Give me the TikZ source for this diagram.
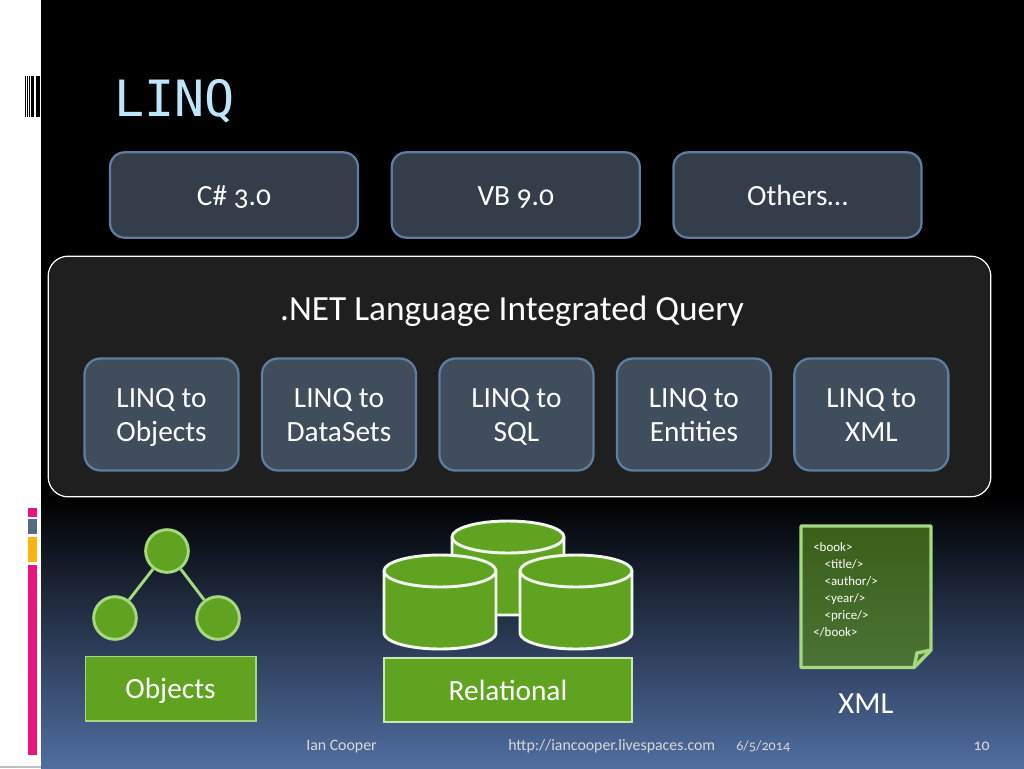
\documentclass[tikz,border=0pt]{standalone}
\usepackage{fontspec}
\setmainfont[Numbers=OldStyle]{Carlito}
\newfontfamily\titlefont{DejaVu Sans Mono}
\usetikzlibrary{positioning}
\definecolor{bluetitle}{HTML}{BDE6FA}
\definecolor{langfill}{HTML}{333E4A}
\definecolor{linqfill}{HTML}{3F4D5C}
\definecolor{slateedge}{HTML}{5F7D9E}
\definecolor{panelfill}{HTML}{1F1F1F}
\definecolor{leaf}{HTML}{5FA321}
\definecolor{leafedge}{HTML}{A5D87F}
\definecolor{sidepink}{HTML}{E8157F}
\definecolor{sideslate}{HTML}{566A82}
\definecolor{sideamber}{HTML}{FFB30F}
\definecolor{skymid}{HTML}{28375A}
\definecolor{skylow}{HTML}{506EA0}
\definecolor{doctop}{HTML}{3A5F18}
\definecolor{doclow}{HTML}{4A7336}
\newcommand{\linqto}[1]{\rule{0pt}{22.4pt}LINQ to\\\strut #1}

\begin{document}
\begin{tikzpicture}[
    x=0.75pt,y=-0.75pt,
    langnode/.style={rectangle, rounded corners=11pt, draw=slateedge, fill=langfill, line width=1.7pt, minimum width=186pt, minimum height=64pt, text=white, text height=18pt, text depth=3pt, font=\fontsize{22}{26}\selectfont},
    linqnode/.style={rectangle, rounded corners=12pt, draw=slateedge, fill=linqfill, line width=1.7pt, minimum width=115.5pt, minimum height=84pt, text=white, align=center, font=\fontsize{22}{25.5}\selectfont},
    treenode/.style={circle, draw=leafedge, fill=leaf, line width=2.2pt, minimum size=32pt, inner sep=0pt},
    labelnode/.style={rectangle, draw=leafedge, fill=leaf, line width=1pt, text=white, text height=18pt, text depth=3pt, font=\fontsize{22}{26}\selectfont},
    footnode/.style={text=white!85!black, inner sep=0pt, font=\fontsize{11.9}{14}\selectfont},
    ]
\useasboundingbox (0,0) rectangle (1024,768);
%Background
\fill[black] (0,0) rectangle (1024,768);
\shade[top color=black, middle color=skymid, bottom color=skylow] (41,497) rectangle (1024,768);
\fill[white] (0,0) rectangle (41,768);
\fill[black!25] (0,766) rectangle (41,768);
%Side marks
\foreach \xa/\xb in {25/26,27/28,29/30,31/34,35.5/36,37/40}
    \fill[black] (\xa,76) rectangle (\xb,117);
\fill[sidepink] (28,508) rectangle (37,517);
\fill[sideslate] (28,519) rectangle (37,534);
\fill[sideamber] (28,537) rectangle (37,562);
\fill[sidepink] (28,565) rectangle (37,755);

%Nodes
\node[text=bluetitle, anchor=west, inner sep=0pt, font=\titlefont\fontsize{37.5}{40}\selectfont] (title) at (114,101) {LINQ};

\node[langnode]     (CS)    at (234,195)        {C\# 3.0};
\node[langnode]     (VB)    [right=23.6pt of CS]  {VB 9.0};
\node[langnode]     (OT)    [right=23.6pt of VB]  {Others…};

\node[rectangle, rounded corners=15pt, draw=white, fill=panelfill, line width=0.9pt, minimum width=707pt, minimum height=180.5pt] (net) at (519.5,376.5) {};
\node[text=white, font=\fontsize{26.5}{30}\selectfont] (query) at (512,311) {.NET Language Integrated Query};

\node[linqnode]     (LO)    at (161.5,414.5)    {\linqto{Objects}};
\node[linqnode]     (LD)    [right=15.9pt of LO]  {\linqto{DataSets}};
\node[linqnode]     (LS)    [right=15.9pt of LD]  {\linqto{SQL}};
\node[linqnode]     (LE)    [right=15.9pt of LS]  {\linqto{Entities}};
\node[linqnode]     (LX)    [right=15.9pt of LE]  {\linqto{XML}};

%Objects
\node[treenode]     (T0)    at (167,551)        {};
\node[treenode]     (T1)    at (115,618)        {};
\node[treenode]     (T2)    at (218,618)        {};
\draw[leafedge, line width=2.2pt] (T0) -- (T1);
\draw[leafedge, line width=2.2pt] (T0) -- (T2);
\node[labelnode, minimum width=128pt, minimum height=48.5pt] (objects) at (170.5,688.5) {Objects};

%Relational
\foreach \cx/\cy/\cb in {508/537/0,440/571/1,576/571/1}{
    \ifnum\cb=1
        \filldraw[fill=leaf, draw=white!92!leaf, line width=2.2pt] (\cx-56,\cy) -- (\cx-56,\cy+62)
            arc[start angle=180, end angle=360, x radius=56, y radius=-16] -- (\cx+56,\cy)
            arc[start angle=0, end angle=180, x radius=56, y radius=-16] -- cycle;
    \else
        \filldraw[fill=leaf, draw=white!92!leaf, line width=2.2pt] (\cx-56,\cy) -- (\cx-56,\cy+78) -- (\cx+56,\cy+78) -- (\cx+56,\cy)
            arc[start angle=0, end angle=180, x radius=56, y radius=-16] -- cycle;
    \fi
    \draw[white!92!leaf, line width=2.2pt] (\cx-56,\cy) arc[start angle=180, end angle=360, x radius=56, y radius=-16];
}
\node[labelnode, draw=leafedge!60!white, minimum width=186pt, minimum height=48pt] (relational) at (508,690) {Relational};

%XML
\shade[top color=doctop, bottom color=doclow, draw=leafedge, line width=2.6pt, line join=round]
    (801,526) -- (931,526) -- (931,650) -- (914,667.5) -- (801,667.5) -- cycle;
\draw[leafedge, line width=2.6pt, line join=round] (914,667.5) -- (917,653) -- (931,650);
\node[text=white, anchor=north west, align=left, inner sep=0pt, font=\fontsize{9.7}{12.8}\selectfont] (book) at (813,542)
    {<book>\\\hspace*{8.5pt}<title/>\\\hspace*{8.5pt}<author/>\\\hspace*{8.5pt}<year/>\\\hspace*{8.5pt}<price/>\\</book>};
\node[text=white, font=\fontsize{23}{26}\selectfont] (xml) at (866,704) {XML};

%Footer
\node[footnode, anchor=base west] (author) at (306,750) {Ian Cooper};
\node[footnode, anchor=base west] (url)    at (508,750) {http://iancooper.livespaces.com};
\node[footnode, anchor=base west, font=\fontsize{10.6}{14}\selectfont] (date) at (736,750) {6/5/2014};
\node[footnode, anchor=base east] (page)   at (990,750) {10};
\end{tikzpicture}
\end{document}
